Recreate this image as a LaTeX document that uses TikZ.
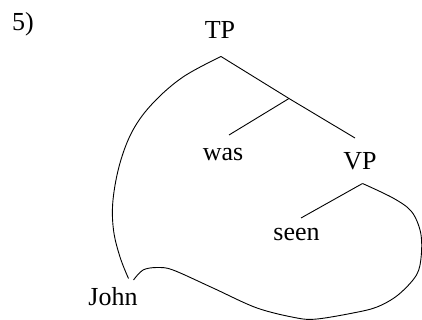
\documentclass[tikz,border=0pt]{standalone}
\usepackage{fontspec}
\setmainfont{Liberation Serif}
\begin{document}
\begin{tikzpicture}[x=1pt,y=-1pt,
  lbl/.style={anchor=base,inner sep=0pt,font=\fontsize{26}{30}\selectfont},
  branch/.style={line width=0.9pt,line join=miter},
  move/.style={line width=0.9pt}]
\useasboundingbox (0,0) rectangle (422,320);
% labels
\node[lbl,anchor=base west] (num) at (12,31) {5)};
\node[lbl] (tp) at (220,39) {TP};
\node[lbl] (was) at (223,161) {was};
\node[lbl] (vp) at (360,170) {VP};
\node[lbl] (seen) at (296.5,240) {seen};
\node[lbl] (john) at (113,305) {John};
% attachment points
\coordinate (tpa) at (221,56.5);
\coordinate (bar) at (289,98.5);
\coordinate (wasT) at (229,135);
\coordinate (vpT) at (355,138);
\coordinate (vpa) at (362.5,183.5);
\coordinate (seenT) at (301,218);
\coordinate (johnL) at (128.5,278.5);
\coordinate (johnR) at (133.5,280);
% tree branches
\draw[branch] (tpa) -- (bar);
\draw[branch] (wasT) -- (bar) -- (vpT);
\draw[branch] (vpa) -- (seenT);
% movement curves
\draw[move] plot[smooth,tension=0.6] coordinates {(tpa) (183,77) (153,103) (133,130) (120,163) (113,200) (113.5,230) (120,257) (johnL)};
\draw[move] plot[smooth,tension=0.55] coordinates {(johnR) (143,270) (157,267.5) (173,270) (213,288) (257,308) (297,318) (317,319) (353,313) (377,307) (398,295) (416.5,275) (421.3,255) (420.5,232) (411.5,211.5) (393,198) (vpa)};
\end{tikzpicture}
\end{document}
